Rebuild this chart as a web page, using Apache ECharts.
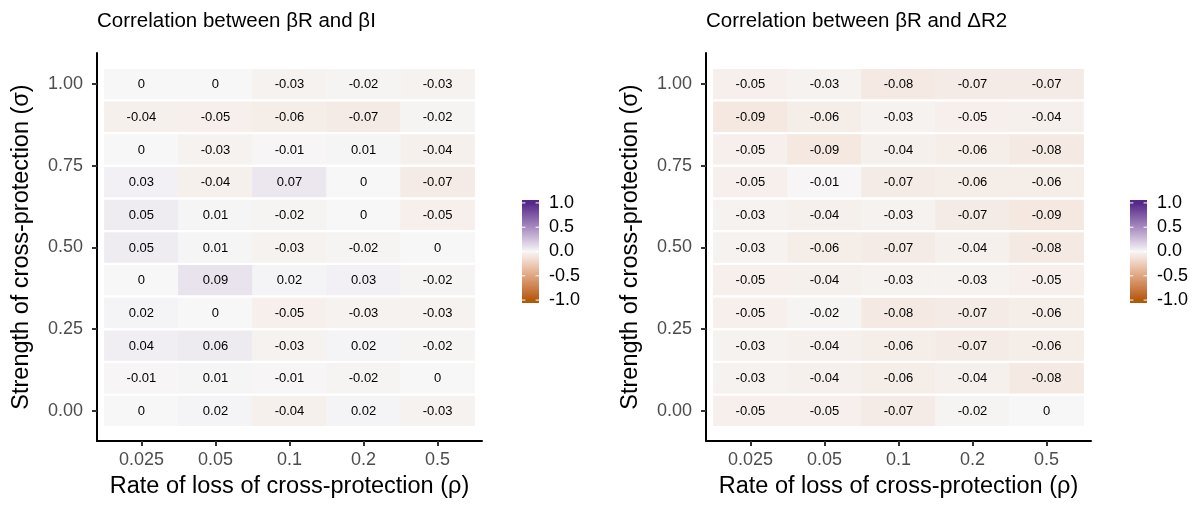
<!DOCTYPE html>
<html>
<head>
<meta charset="utf-8">
<script src="https://cdn.jsdelivr.net/npm/echarts@6/dist/echarts.min.js"></script>
<style>
  html, body { margin: 0; padding: 0; background: #ffffff; }
  #chart { width: 1200px; height: 507px; }
</style>
</head>
<body>
<div id="chart"></div>
<script>
// Rate of loss of cross-protection (x categories)
const rhoLabels = ['0.025', '0.05', '0.1', '0.2', '0.5'];
// Strength of cross-protection, one row per level, top row first
const sigmaLevels = [1.0, 0.9, 0.8, 0.7, 0.6, 0.5, 0.4, 0.3, 0.2, 0.1, 0.0];

// Correlation between βR and βI (rows follow sigmaLevels, columns follow rhoLabels)
const corrBetaI = [
  [0, 0, -0.03, -0.02, -0.03],
  [-0.04, -0.05, -0.06, -0.07, -0.02],
  [0, -0.03, -0.01, 0.01, -0.04],
  [0.03, -0.04, 0.07, 0, -0.07],
  [0.05, 0.01, -0.02, 0, -0.05],
  [0.05, 0.01, -0.03, -0.02, 0],
  [0, 0.09, 0.02, 0.03, -0.02],
  [0.02, 0, -0.05, -0.03, -0.03],
  [0.04, 0.06, -0.03, 0.02, -0.02],
  [-0.01, 0.01, -0.01, -0.02, 0],
  [0, 0.02, -0.04, 0.02, -0.03]
];

// Correlation between βR and ΔR2
const corrDeltaR2 = [
  [-0.05, -0.03, -0.08, -0.07, -0.07],
  [-0.09, -0.06, -0.03, -0.05, -0.04],
  [-0.05, -0.09, -0.04, -0.06, -0.08],
  [-0.05, -0.01, -0.07, -0.06, -0.06],
  [-0.03, -0.04, -0.03, -0.07, -0.09],
  [-0.03, -0.06, -0.07, -0.04, -0.08],
  [-0.05, -0.04, -0.03, -0.03, -0.05],
  [-0.05, -0.02, -0.08, -0.07, -0.06],
  [-0.03, -0.04, -0.06, -0.07, -0.06],
  [-0.03, -0.04, -0.06, -0.04, -0.08],
  [-0.05, -0.05, -0.07, -0.02, 0]
];

const yTicks = [0, 0.25, 0.5, 0.75, 1];
const legendTicks = [-1, -0.5, 0, 0.5, 1];

const FONT = '"Liberation Sans", Arial, Helvetica, sans-serif';

// ---- diverging fill: brown (-1) -> light grey (0) -> purple (1), interpolated in Lab ----
const LOW = '#b35806', MID = '#f7f7f7', HIGH = '#542788';
function hexToRgb(h) { return [1, 3, 5].map(i => parseInt(h.substr(i, 2), 16)); }
function toLin(c) { c /= 255; return c <= 0.04045 ? c / 12.92 : Math.pow((c + 0.055) / 1.055, 2.4); }
function fromLin(c) { const v = c <= 0.0031308 ? 12.92 * c : 1.055 * Math.pow(c, 1 / 2.4) - 0.055; return Math.max(0, Math.min(255, Math.round(v * 255))); }
const WP = [0.95047, 1.0, 1.08883];
function f(t) { return t > 0.008856 ? Math.cbrt(t) : 7.787 * t + 16 / 116; }
function fi(t) { return t > 0.206893 ? t * t * t : (t - 16 / 116) / 7.787; }
function rgbToLab(rgb) {
  const [r, g, b] = rgb.map(toLin);
  const X = (r * 0.4124 + g * 0.3576 + b * 0.1805) / WP[0];
  const Y = (r * 0.2126 + g * 0.7152 + b * 0.0722) / WP[1];
  const Z = (r * 0.0193 + g * 0.1192 + b * 0.9505) / WP[2];
  return [116 * f(Y) - 16, 500 * (f(X) - f(Y)), 200 * (f(Y) - f(Z))];
}
function labToHex(lab) {
  const fy = (lab[0] + 16) / 116, fx = fy + lab[1] / 500, fz = fy - lab[2] / 200;
  const X = fi(fx) * WP[0], Y = fi(fy) * WP[1], Z = fi(fz) * WP[2];
  const r = X * 3.2406 + Y * -1.5372 + Z * -0.4986;
  const g = X * -0.9689 + Y * 1.8758 + Z * 0.0415;
  const b = X * 0.0557 + Y * -0.2040 + Z * 1.0570;
  return '#' + [r, g, b].map(c => fromLin(c).toString(16).padStart(2, '0')).join('');
}
const labLow = rgbToLab(hexToRgb(LOW)), labMid = rgbToLab(hexToRgb(MID)), labHigh = rgbToLab(hexToRgb(HIGH));
function fillFor(v) {
  const t = Math.min(1, Math.abs(v));
  const end = v < 0 ? labLow : labHigh;
  return labToHex(labMid.map((m, i) => m + (end[i] - m) * t));
}

function tileData(rows) {
  const out = [];
  rows.forEach((row, r) => row.forEach((v, c) => out.push([c + 1, sigmaLevels[r], v])));
  return out;
}

function renderTile(params, api) {
  const x = api.value(0), y = api.value(1), v = api.value(2);
  const p = api.coord([x, y]);
  const sz = api.size([1, 0.1]);
  const gap = 1.2;
  return {
    type: 'group',
    children: [
      {
        type: 'rect',
        shape: { x: p[0] - sz[0] / 2 - 0.3, y: p[1] - sz[1] / 2 + gap, width: sz[0] + 0.6, height: sz[1] - 2 * gap },
        style: { fill: fillFor(v) }
      },
      {
        type: 'text',
        style: {
          x: p[0], y: p[1] + 0.5, text: String(v), align: 'center', verticalAlign: 'middle',
          fill: '#000000', fontSize: 13, fontFamily: FONT
        }
      }
    ]
  };
}

const LEG_MIN = -1.06, LEG_MAX = 1.06;
function renderColorbar(params, api) {
  const tl = api.coord([0, LEG_MAX]);
  const br = api.coord([1, LEG_MIN]);
  const stops = [];
  const n = 40;
  for (let i = 0; i <= n; i++) {
    const val = LEG_MAX - (LEG_MAX - LEG_MIN) * i / n;
    stops.push({ offset: i / n, color: fillFor(Math.max(-1, Math.min(1, val))) });
  }
  const w = br[0] - tl[0];
  const tickLen = w / 5;
  const children = [{
    type: 'rect',
    shape: { x: tl[0], y: tl[1], width: w, height: br[1] - tl[1] },
    style: { fill: { type: 'linear', x: 0, y: 0, x2: 0, y2: 1, colorStops: stops } }
  }];
  legendTicks.forEach(t => {
    const yy = api.coord([0, t])[1];
    children.push({ type: 'line', shape: { x1: tl[0], y1: yy, x2: tl[0] + tickLen, y2: yy }, style: { stroke: '#ffffff', lineWidth: 1 } });
    children.push({ type: 'line', shape: { x1: br[0] - tickLen, y1: yy, x2: br[0], y2: yy }, style: { stroke: '#ffffff', lineWidth: 1 } });
  });
  return { type: 'group', children };
}

function heatX(gridIndex) {
  return {
    type: 'value', gridIndex, min: 0.4, max: 5.6,
    axisLine: { show: true, onZero: false, lineStyle: { color: '#000000', width: 2 } },
    axisTick: { show: true, customValues: [1, 2, 3, 4, 5], length: 5, lineStyle: { color: '#333333', width: 2 } },
    axisLabel: {
      customValues: [1, 2, 3, 4, 5], formatter: v => rhoLabels[Math.round(v) - 1],
      color: '#4d4d4d', fontSize: 18, fontFamily: FONT, margin: 10
    },
    splitLine: { show: false },
    name: 'Rate of loss of cross-protection (ρ)', nameLocation: 'middle', nameGap: 34,
    nameTextStyle: { color: '#000000', fontSize: 23.5, fontFamily: FONT }
  };
}
function heatY(gridIndex) {
  return {
    type: 'value', gridIndex, min: -0.092, max: 1.095,
    axisLine: { show: true, onZero: false, lineStyle: { color: '#000000', width: 2 } },
    axisTick: { show: true, customValues: yTicks, length: 5, lineStyle: { color: '#333333', width: 2 } },
    axisLabel: {
      customValues: yTicks, formatter: v => v.toFixed(2),
      color: '#4d4d4d', fontSize: 18, fontFamily: FONT, margin: 14
    },
    splitLine: { show: false },
    name: 'Strength of cross-protection (σ)', nameLocation: 'middle', nameRotate: 90, nameGap: 63,
    nameTextStyle: { color: '#000000', fontSize: 23.5, fontFamily: FONT }
  };
}
function legendX(gridIndex) {
  return { type: 'value', gridIndex, min: 0, max: 1, show: false };
}
function legendY(gridIndex) {
  return {
    type: 'value', gridIndex, min: LEG_MIN, max: LEG_MAX, position: 'right',
    axisLine: { show: false }, axisTick: { show: false }, splitLine: { show: false },
    axisLabel: {
      customValues: legendTicks, formatter: v => v.toFixed(1),
      color: '#000000', fontSize: 18, fontFamily: FONT, margin: 10
    }
  };
}

const chart = echarts.init(document.getElementById('chart'), null, { renderer: 'canvas' });
chart.setOption({
  backgroundColor: '#ffffff',
  animation: false,
  textStyle: { fontFamily: FONT },
  title: [
    { text: 'Correlation between βR and βI', left: 97, top: 11, padding: 0,
      textStyle: { fontSize: 20.5, fontWeight: 'normal', color: '#000000', fontFamily: FONT } },
    { text: 'Correlation between βR and ΔR2', left: 706, top: 11, padding: 0,
      textStyle: { fontSize: 20.5, fontWeight: 'normal', color: '#000000', fontFamily: FONT } }
  ],
  grid: [
    { left: 97, top: 53, width: 385, height: 388 },
    { left: 706, top: 53, width: 385, height: 388 },
    { left: 522, top: 200, width: 17, height: 103 },
    { left: 1130, top: 200, width: 17, height: 103 }
  ],
  xAxis: [heatX(0), heatX(1), legendX(2), legendX(3)],
  yAxis: [heatY(0), heatY(1), legendY(2), legendY(3)],
  series: [
    { type: 'custom', name: 'βR vs βI', xAxisIndex: 0, yAxisIndex: 0, data: tileData(corrBetaI), renderItem: renderTile, silent: true },
    { type: 'custom', name: 'βR vs ΔR2', xAxisIndex: 1, yAxisIndex: 1, data: tileData(corrDeltaR2), renderItem: renderTile, silent: true },
    { type: 'custom', xAxisIndex: 2, yAxisIndex: 2, data: [[0, 0]], renderItem: renderColorbar, silent: true },
    { type: 'custom', xAxisIndex: 3, yAxisIndex: 3, data: [[0, 0]], renderItem: renderColorbar, silent: true }
  ]
});
</script>
</body>
</html>
